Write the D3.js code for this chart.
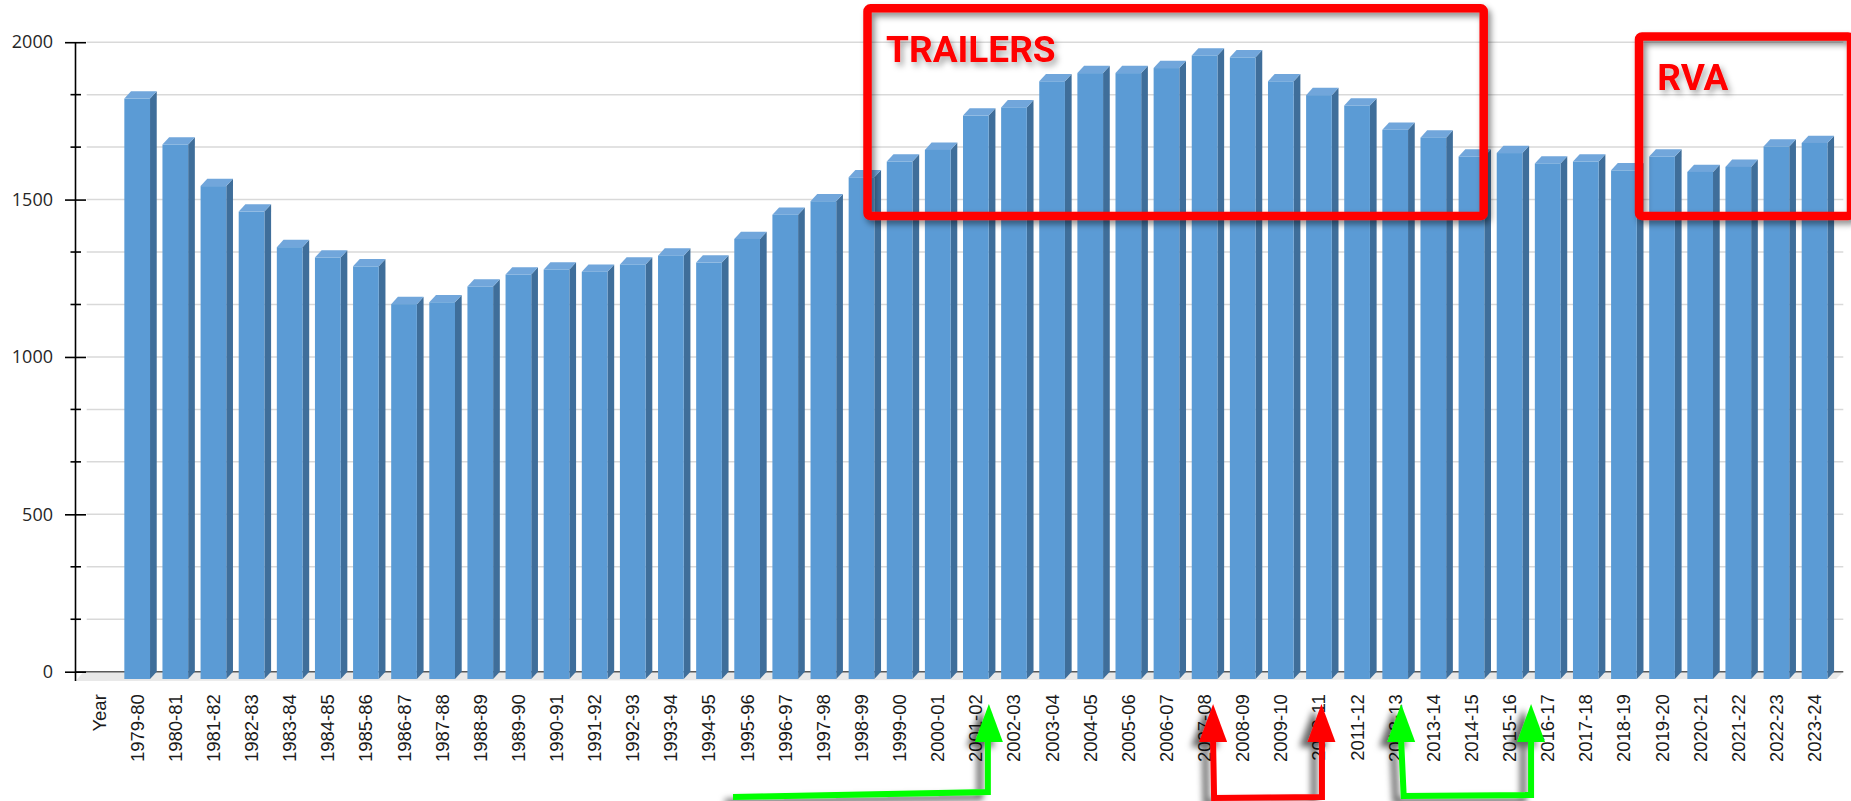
<!DOCTYPE html>
<html>
<head>
<meta charset="utf-8">
<script src="https://cdn.jsdelivr.net/npm/d3@7"></script>
<style>
  html, body { margin: 0; padding: 0; background: #ffffff; }
  svg { display: block; }
</style>
</head>
<body>
<svg id="chart" width="1851" height="801"></svg>
<script>
// ---------------- data ----------------
const categories = ["Year","1979-80","1980-81","1981-82","1982-83","1983-84","1984-85","1985-86","1986-87","1987-88","1988-89","1989-90","1990-91","1991-92","1992-93","1993-94","1994-95","1995-96","1996-97","1997-98","1998-99","1999-00","2000-01","2001-02","2002-03","2003-04","2004-05","2005-06","2006-07","2007-08","2008-09","2009-10","2010-11","2011-12","2012-13","2013-14","2014-15","2015-16","2016-17","2017-18","2018-19","2019-20","2020-21","2021-22","2022-23","2023-24"];
const values = [null,1844,1698,1566,1485,1372,1339,1311,1191,1197,1247,1285,1301,1294,1317,1345,1323,1398,1475,1518,1594,1644,1681,1790,1816,1899,1925,1925,1941,1981,1975,1899,1855,1822,1745,1720,1660,1671,1638,1644,1616,1660,1611,1627,1692,1703];
const yMajorTicks = [0, 500, 1000, 1500, 2000];
const yMinorTicks = [166.67, 333.33, 666.67, 833.33, 1166.67, 1333.33, 1666.67, 1833.33];
const boxLabels = ["TRAILERS", "RVA"];

// ---------------- layout ----------------
const svg = d3.select("#chart");
const depthX = 6.7, depthY = 7.3;
const axisX = 75.5;

const x = d3.scaleBand()
  .domain(categories)
  .range([80, 1833.6])
  .paddingInner(0.326)
  .paddingOuter(0.163);

const y = d3.scaleLinear().domain([0, 2000]).range([671.7, 42.2]);

const defs = svg.append("defs");
function shadow(id, dx, dy, sd, op) {
  const f = defs.append("filter").attr("id", id)
    .attr("x", "-20%").attr("y", "-20%").attr("width", "140%").attr("height", "140%");
  f.append("feDropShadow").attr("dx", dx).attr("dy", dy).attr("stdDeviation", sd)
    .attr("flood-color", "#000").attr("flood-opacity", op);
}
shadow("boxShadow", 3, 4, 3, 0.45);
shadow("textShadow", 3, 4, 3, 0.35);
shadow("arrowShadow", -8, 5, 3, 0.6);

const xLeft = x.range()[0], xRight = x.range()[1];

// back-wall gridlines
const allGrid = yMajorTicks.concat(yMinorTicks).filter(v => v > 0);
svg.append("g").selectAll("line").data(allGrid).join("line")
  .attr("x1", xLeft + depthX).attr("x2", xRight + depthX + 3)
  .attr("y1", d => y(d)).attr("y2", d => y(d))
  .attr("stroke", "#d9d9d9").attr("stroke-width", 1.5);

// floor
svg.append("polygon")
  .attr("points", [
    [axisX, y(0) + depthY + 2],
    [xRight + 2.5, y(0) + depthY],
    [xRight + depthX + 3, y(0)],
    [xLeft + depthX - 3, y(0)]
  ].map(p => p.join(",")).join(" "))
  .attr("fill", "#e8e8e8");

// zero line (back edge)
svg.append("line")
  .attr("x1", axisX).attr("x2", xRight + depthX + 3)
  .attr("y1", y(0)).attr("y2", y(0))
  .attr("stroke", "#595959").attr("stroke-width", 1.5);

// bars (3D)
const bw = x.bandwidth();
const barData = categories.map((c, i) => ({ c, v: values[i] })).filter(d => d.v != null);
const bars = svg.append("g").selectAll("g").data(barData).join("g");
// side face
bars.append("polygon")
  .attr("points", d => {
    const x0 = x(d.c) + bw, yt = y(d.v) + depthY, yb = y(0) + depthY;
    return [[x0, yt], [x0 + depthX, yt - depthY], [x0 + depthX, yb - depthY], [x0, yb]].map(p => p.join(",")).join(" ");
  })
  .attr("fill", "#3f6e9a");
// top face
bars.append("polygon")
  .attr("points", d => {
    const x0 = x(d.c), yt = y(d.v) + depthY;
    return [[x0, yt], [x0 + bw, yt], [x0 + bw + depthX, yt - depthY], [x0 + depthX, yt - depthY]].map(p => p.join(",")).join(" ");
  })
  .attr("fill", "#71a6db");
// front face
bars.append("rect")
  .attr("x", d => x(d.c))
  .attr("y", d => y(d.v) + depthY)
  .attr("width", bw)
  .attr("height", d => y(0) - y(d.v))
  .attr("fill", "#5b9bd5");

// y axis
const yAxisG = svg.append("g").attr("transform", `translate(${axisX},0)`);
yAxisG.call(d3.axisLeft(y).tickValues(yMajorTicks).tickSize(10.5).tickSizeOuter(0).tickPadding(12).tickFormat(d3.format("d")));
yAxisG.select(".domain").remove();
yAxisG.selectAll(".tick line").attr("x1", -10.5).attr("x2", 10.5).attr("stroke", "#000").attr("stroke-width", 1.6);
yAxisG.selectAll(".tick text")
  .attr("font-family", "'Open Sans', sans-serif").attr("font-size", 18).attr("fill", "#262626");
yAxisG.append("g").selectAll("line").data(yMinorTicks).join("line")
  .attr("x1", -5).attr("x2", 5.5).attr("y1", d => y(d)).attr("y2", d => y(d))
  .attr("stroke", "#000").attr("stroke-width", 1.6);
yAxisG.append("line")
  .attr("x1", 0).attr("x2", 0).attr("y1", y(2000)).attr("y2", y(0) + depthY + 2)
  .attr("stroke", "#000").attr("stroke-width", 1.6);

// x axis labels
const xAxisG = svg.append("g").attr("transform", `translate(0,${y(0) + 22.5})`);
xAxisG.call(d3.axisBottom(x).tickSize(0).tickPadding(0));
xAxisG.select(".domain").remove();
xAxisG.selectAll(".tick text")
  .attr("transform", "rotate(-90)")
  .attr("x", 0).attr("y", 0).attr("dy", "0.35em")
  .attr("text-anchor", "end")
  .attr("font-family", "'Liberation Sans', Arial, sans-serif")
  .attr("font-size", 18.5).attr("fill", "#1a1a1a");

// ---------------- annotations ----------------
const ann = svg.append("g");
const boxes = [
  { label: boxLabels[0], x1: 867.5, y1: 8.3, x2: 1483.7, y2: 216, tx: 886, ty: 61.7 },
  { label: boxLabels[1], x1: 1639, y1: 36.5, x2: 1851, y2: 216, tx: 1657.3, ty: 90 }
];
ann.selectAll("rect.box").data(boxes).join("rect").attr("class", "box")
  .attr("x", d => d.x1).attr("y", d => d.y1)
  .attr("width", d => d.x2 - d.x1).attr("height", d => d.y2 - d.y1)
  .attr("rx", 3).attr("fill", "none").attr("stroke", "#ff0000").attr("stroke-width", 8.5)
  .attr("filter", "url(#boxShadow)");
ann.selectAll("text.boxlabel").data(boxes).join("text").attr("class", "boxlabel")
  .attr("x", d => d.tx).attr("y", d => d.ty)
  .attr("font-family", "Roboto, sans-serif").attr("font-weight", 700)
  .attr("font-size", 37).attr("fill", "#ff0000")
  .attr("filter", "url(#textShadow)")
  .text(d => d.label);

// arrows: anchored to category positions with small hand-drawn offsets
const cx = (c, off) => x(c) + bw / 2 + off;
const arrows = [
  { color: "#00ff00", pts: [[733, 797], [cx("2001-02", 12), 792], [cx("2001-02", 12), 742]], heads: [[cx("2001-02", 13), 704]] },
  { color: "#ff0000", pts: [[cx("2007-08", 8.5), 742], [cx("2007-08", 9.5), 798], [cx("2010-11", 3), 797], [cx("2010-11", 3), 742]],
    heads: [[cx("2007-08", 8.5), 704], [cx("2010-11", 2.5), 704]] },
  { color: "#00ff00", pts: [[cx("2012-13", 6), 742], [cx("2012-13", 8.5), 796], [cx("2015-16", 21.5), 795], [cx("2015-16", 21.5), 742]],
    heads: [[cx("2012-13", 6), 704], [cx("2015-16", 21.5), 704]] }
];
const ag = ann.selectAll("g.arrow").data(arrows).join("g").attr("class", "arrow")
  .attr("filter", "url(#arrowShadow)");
ag.append("path")
  .attr("d", d => d3.line()(d.pts))
  .attr("fill", "none").attr("stroke", d => d.color).attr("stroke-width", 6)
  .attr("stroke-linejoin", "miter").attr("stroke-linecap", "butt");
ag.each(function(d) {
  d3.select(this).selectAll("polygon").data(d.heads).join("polygon")
    .attr("points", h => [[h[0], h[1]], [h[0] + 14, h[1] + 38], [h[0] - 14, h[1] + 38]].map(p => p.join(",")).join(" "))
    .attr("fill", d.color);
});
</script>
</body>
</html>
